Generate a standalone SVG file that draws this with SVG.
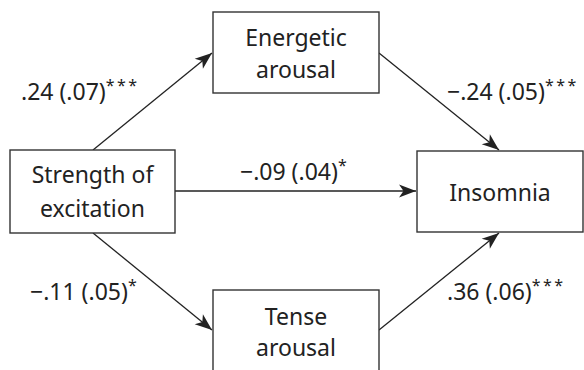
<svg xmlns="http://www.w3.org/2000/svg" width="584" height="370" viewBox="0 0 584 370">
<style>
.box{fill:#fff;stroke:#333;stroke-width:1.4}
.t{font-family:"Noto Sans","Open Sans",sans-serif;font-size:23px;fill:#222}
.c{text-anchor:middle}
.s{font-size:16px;letter-spacing:2.5px}
.e{fill:none;stroke:#222;stroke-width:1.3}
</style>
<defs>
<marker id="ah" markerUnits="userSpaceOnUse" markerWidth="20" markerHeight="16" viewBox="-18 -8 20 16" refX="0" refY="0" orient="auto">
<path d="M0,0 L-17,-6.5 L-12.5,0 L-17,6.5 Z" fill="#222"/>
</marker>
</defs>
<rect width="584" height="370" fill="#fff"/>
<g id="connectors">
<line class="e" x1="93" y1="150" x2="212" y2="53" marker-end="url(#ah)"/>
<line class="e" x1="379" y1="53" x2="499" y2="150" marker-end="url(#ah)"/>
<line class="e" x1="175" y1="191" x2="416" y2="191" marker-end="url(#ah)"/>
<line class="e" x1="93" y1="233" x2="212" y2="330" marker-end="url(#ah)"/>
<line class="e" x1="379" y1="330" x2="499" y2="233" marker-end="url(#ah)"/>
<text class="t" x="21" y="100">.24 (.07)<tspan class="s" dy="-9">***</tspan></text>
<text class="t" x="447" y="100">−.24 (.05)<tspan class="s" dy="-9">***</tspan></text>
<text class="t" x="240" y="180">−.09 (.04)<tspan class="s" dy="-9">*</tspan></text>
<text class="t" x="30" y="300">−.11 (.05)<tspan class="s" dy="-9">*</tspan></text>
<text class="t" x="447" y="300">.36 (.06)<tspan class="s" dy="-9">***</tspan></text>
</g>
<g id="strength">
<rect class="box" x="10" y="150" width="165" height="83"/>
<text class="t c" x="92.5" y="183">Strength of</text>
<text class="t c" x="92.5" y="217">excitation</text>
</g>
<g id="energetic">
<rect class="box" x="213" y="12" width="166" height="81"/>
<text class="t c" x="296" y="46">Energetic</text>
<text class="t c" x="296" y="78">arousal</text>
</g>
<g id="insomnia">
<rect class="box" x="417" y="151" width="166" height="81"/>
<text class="t c" x="500" y="201">Insomnia</text>
</g>
<g id="tense">
<rect class="box" x="213" y="290" width="166" height="90"/>
<text class="t c" x="296" y="325">Tense</text>
<text class="t c" x="296" y="356">arousal</text>
</g>
</svg>
